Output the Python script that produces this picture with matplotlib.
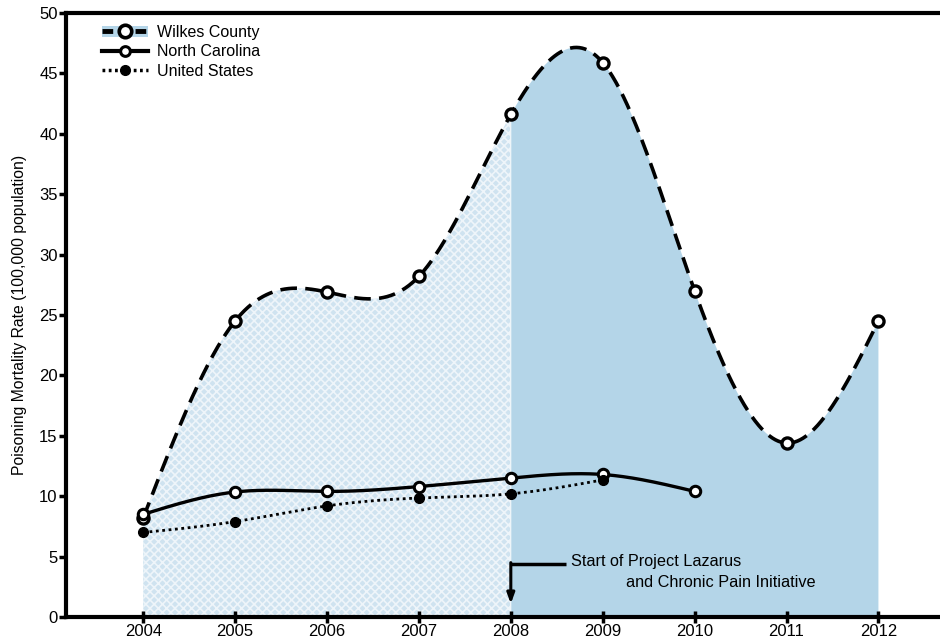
import numpy as np
import matplotlib
matplotlib.use("Agg")
import matplotlib.pyplot as plt
from matplotlib.patches import Patch

plt.rcParams['font.family'] = ['Liberation Sans', 'DejaVu Sans']
plt.rcParams['hatch.linewidth'] = 1.2

years = [2004, 2005, 2006, 2007, 2008, 2009, 2010, 2011, 2012]
wilkes = [8.2, 24.5, 26.9, 28.2, 41.6, 45.9, 27.0, 14.4, 24.5]
nc_years = [2004, 2005, 2006, 2007, 2008, 2009, 2010]
nc = [8.5, 10.35, 10.4, 10.8, 11.5, 11.8, 10.4]
us_years = [2004, 2005, 2006, 2007, 2008, 2009]
us = [7.0, 7.9, 9.2, 9.85, 10.2, 11.35]
yticks = [0, 5, 10, 15, 20, 25, 30, 35, 40, 45, 50]
ylabel = "Poisoning Mortality Rate (100,000 population)"
legend_labels = ["Wilkes County", "North Carolina", "United States"]
note_lines = ["Start of Project Lazarus", "and Chronic Pain Initiative"]
split_year = 2008


def natural_spline(x, y, n=400):
    x = np.asarray(x, float)
    y = np.asarray(y, float)
    k = len(x)
    h = np.diff(x)
    A = np.zeros((k, k))
    b = np.zeros(k)
    A[0, 0] = 1
    A[-1, -1] = 1
    for i in range(1, k - 1):
        A[i, i - 1] = h[i - 1]
        A[i, i] = 2 * (h[i - 1] + h[i])
        A[i, i + 1] = h[i]
        b[i] = 3 * ((y[i + 1] - y[i]) / h[i] - (y[i] - y[i - 1]) / h[i - 1])
    c = np.linalg.solve(A, b)
    xs = np.linspace(x[0], x[-1], n)
    ys = np.empty_like(xs)
    for j, xv in enumerate(xs):
        i = min(np.searchsorted(x, xv, side='right') - 1, k - 2)
        dx = xv - x[i]
        bi = (y[i + 1] - y[i]) / h[i] - h[i] * (2 * c[i] + c[i + 1]) / 3
        di = (c[i + 1] - c[i]) / (3 * h[i])
        ys[j] = y[i] + bi * dx + c[i] * dx ** 2 + di * dx ** 3
    return xs, ys


fig = plt.figure(figsize=(9.4, 6.41), dpi=100)
ax = fig.add_axes([0.0702, 0.0374, 0.9298, 0.9423])

wx, wy = natural_spline(years, wilkes, 800)
nx, ny = natural_spline(nc_years, nc)
ux, uy = natural_spline(us_years, us)

light = '#b4d5e8'
left = wx <= split_year
right = wx >= split_year
ax.fill_between(wx[left], 0, wy[left], facecolor='#cfe3f0', edgecolor='#eef5fa',
                hatch='xxxx', linewidth=0, zorder=1)
ax.fill_between(wx[right], 0, wy[right], facecolor=light, linewidth=0, zorder=1)

ax.plot(wx, wy, color='black', lw=2.6, ls=(0, (4.6, 2.3)), zorder=3)
ax.plot(years, wilkes, ls='none', marker='o', ms=8, mfc='white', mec='black', mew=2.4, zorder=4)
ax.plot(nx, ny, color='black', lw=2.4, zorder=3)
ax.plot(nc_years, nc, ls='none', marker='o', ms=7.5, mfc='white', mec='black', mew=2.2, zorder=4)
ax.plot(ux, uy, color='black', lw=2, ls=(0, (1, 1.3)), zorder=3)
ax.plot(us_years, us, ls='none', marker='o', ms=7, mfc='black', mec='black', zorder=4)

# annotation
ax.plot([split_year, split_year + 0.6], [4.4, 4.4], color='black', lw=2.5, solid_capstyle='butt', zorder=5)
ax.annotate('', xy=(split_year, 1.1), xytext=(split_year, 4.5),
            arrowprops=dict(arrowstyle='-|>,head_length=0.6,head_width=0.22', color='black', lw=2.2,
                            shrinkA=0, shrinkB=0), zorder=5)
ax.text(split_year + 0.65, 4.6, note_lines[0], fontsize=11.7, va='center', ha='left')
ax.text(split_year + 1.25, 2.85, note_lines[1], fontsize=11.7, va='center', ha='left')

ax.set_xlim(2003.16, 2012.67)
ax.set_ylim(0, 50)
ax.set_xticks(years)
ax.set_xticklabels([str(y) for y in years], fontsize=12)
ax.set_yticks(yticks)
ax.set_yticklabels([str(v) for v in yticks], fontsize=12)
ax.tick_params(axis='x', direction='inout', length=9, width=2.5, pad=0.5)
ax.tick_params(axis='y', direction='out', length=5, width=2.5, pad=1)
for s in ['left', 'bottom', 'top']:
    ax.spines[s].set_linewidth(3)
ax.spines['right'].set_visible(False)
ax.set_ylabel(ylabel, fontsize=11.3, labelpad=9)

h_w = (Patch(facecolor=light, edgecolor='none'),
       plt.Line2D([], [], color='black', lw=3.5, ls=(0, (2.2, 1.2)), marker='o', ms=9,
                  mfc='white', mec='black', mew=2.6))
h_n = plt.Line2D([], [], color='black', lw=3, marker='o', ms=7, mfc='white', mec='black', mew=2.2)
h_u = plt.Line2D([], [], color='black', lw=2.5, ls=(0, (0.8, 1)), marker='o', ms=7, mfc='black', mec='black')
leg = ax.legend([h_w, h_n, h_u], legend_labels, loc='upper left', bbox_to_anchor=(0.027, 1.0),
                frameon=False, fontsize=11.5, handlelength=2.9, handletextpad=0.6, labelspacing=0.28,
                borderaxespad=0.35)

fig.savefig('out.png', dpi=100)
